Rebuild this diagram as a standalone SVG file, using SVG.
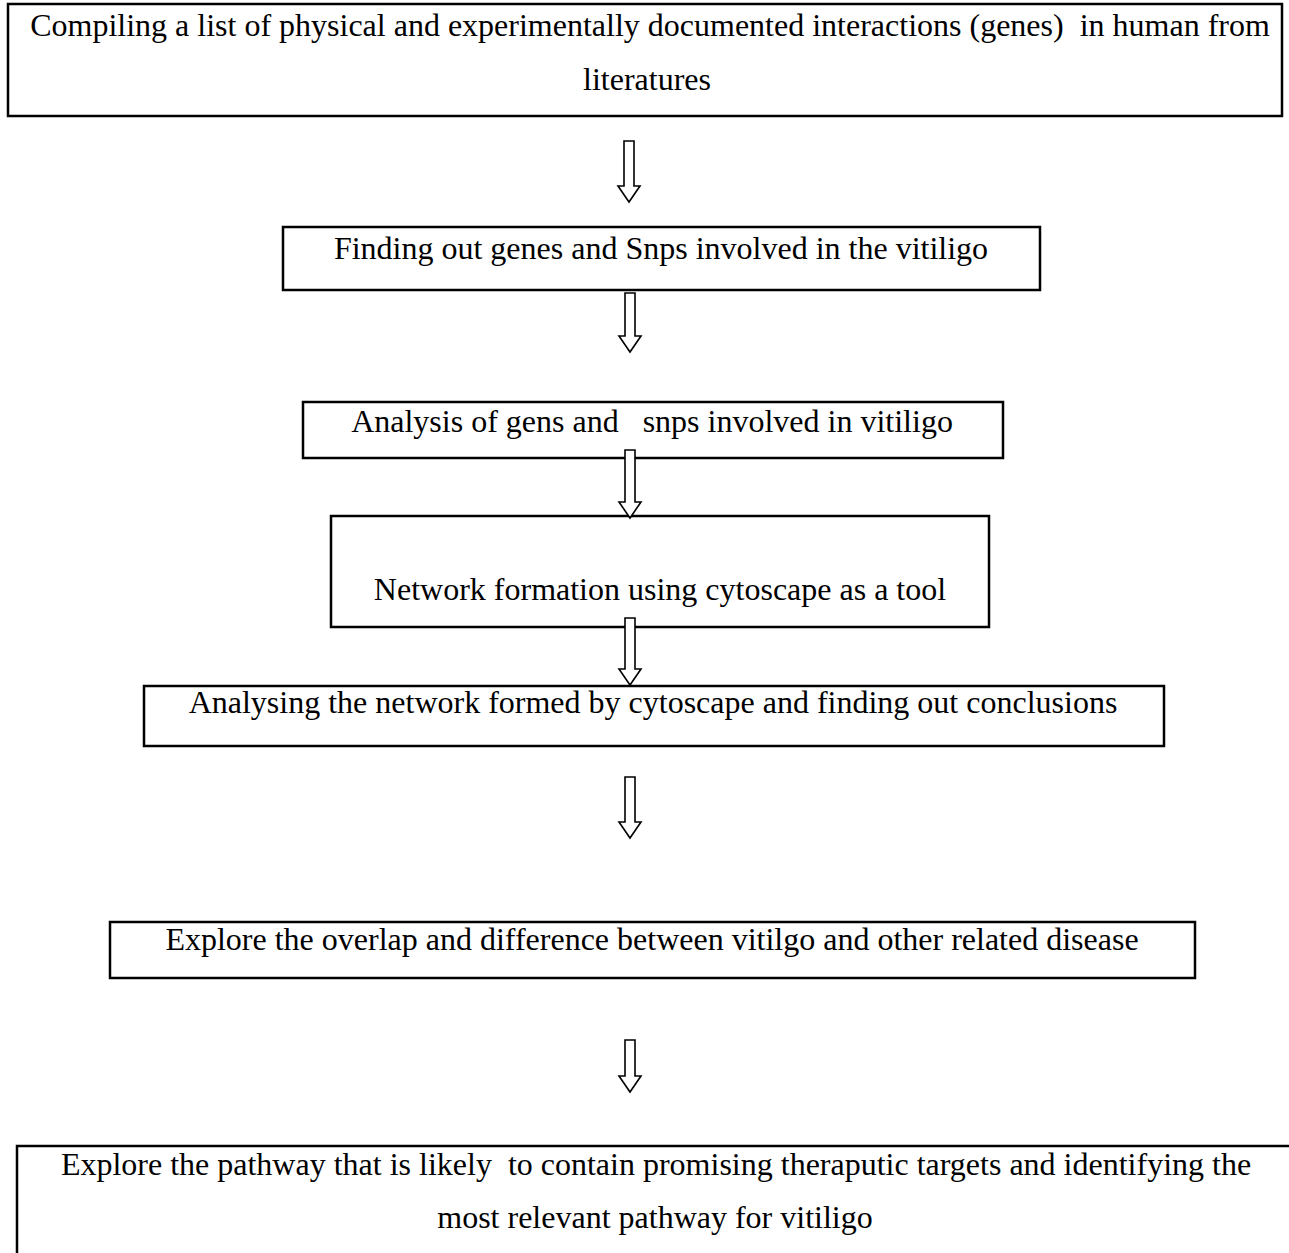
<svg xmlns="http://www.w3.org/2000/svg" width="1289" height="1253" viewBox="0 0 1289 1253">
<style>
.box{fill:#fff;stroke:#000;stroke-width:2.5}
.arr{fill:#fff;stroke:#000;stroke-width:1.6;stroke-linejoin:miter}
text{font-family:"Liberation Serif","Times New Roman",serif;font-size:32px;fill:#000;text-anchor:middle;white-space:pre}
</style>
<rect width="1289" height="1253" fill="#fff"/>
<g id="n1"><rect class="box" x="8" y="4" width="1274" height="112"/>
<text x="650" y="36">Compiling a list of physical and experimentally documented interactions (genes)  in human from</text>
<text x="647" y="90">literatures</text></g>
<g id="n2"><rect class="box" x="283" y="227" width="757" height="63"/>
<text x="661" y="259">Finding out genes and Snps involved in the vitiligo</text></g>
<g id="n3"><rect class="box" x="303" y="402" width="700" height="56"/>
<text x="652" y="432">Analysis of gens and   snps involved in vitiligo</text></g>
<g id="n4"><rect class="box" x="331" y="516" width="658" height="111"/>
<text x="660" y="600">Network formation using cytoscape as a tool</text></g>
<g id="n5"><rect class="box" x="144" y="686" width="1020" height="60"/>
<text x="653" y="713">Analysing the network formed by cytoscape and finding out conclusions</text></g>
<g id="n6"><rect class="box" x="110" y="922" width="1085" height="56"/>
<text x="652" y="950">Explore the overlap and difference between vitilgo and other related disease</text></g>
<g id="n7"><rect class="box" x="17" y="1146" width="1290" height="130"/>
<text x="656" y="1175">Explore the pathway that is likely  to contain promising theraputic targets and identifying the</text>
<text x="655" y="1228">most relevant pathway for vitiligo</text></g>
<g id="connectors">
<path class="arr" d="M624,141 L634,141 L634,186 L640,186 L629,202 L618,186 L624,186 Z"/>
<path class="arr" d="M625,293 L635,293 L635,336 L641,336 L630,352 L619,336 L625,336 Z"/>
<path class="arr" d="M625,450 L635,450 L635,502 L641,502 L630,518 L619,502 L625,502 Z"/>
<path class="arr" d="M625,618 L635,618 L635,669 L641,669 L630,685 L619,669 L625,669 Z"/>
<path class="arr" d="M625,777 L635,777 L635,822 L641,822 L630,838 L619,822 L625,822 Z"/>
<path class="arr" d="M625,1040 L635,1040 L635,1076 L641,1076 L630,1092 L619,1076 L625,1076 Z"/>
</g>
</svg>
